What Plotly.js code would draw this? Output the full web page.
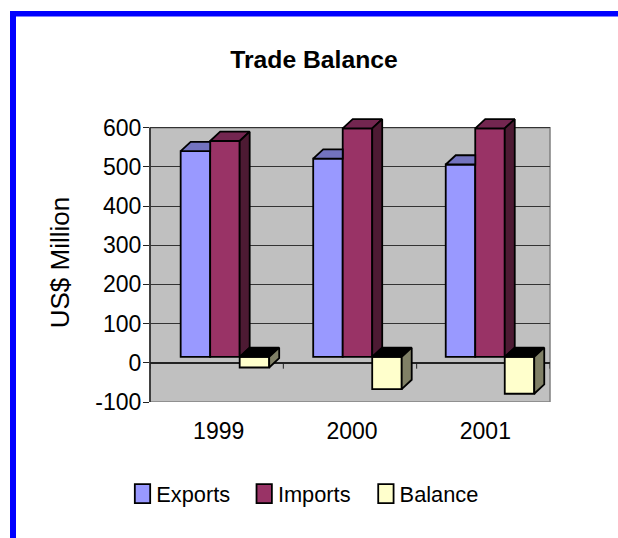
<!DOCTYPE html>
<html><head><meta charset="utf-8">
<script src="https://cdn.plot.ly/plotly-3.0.1.min.js"></script>
<style>html,body{margin:0;padding:0;background:#fff}
#c .legend .legendpoints path{transform:translate(26.3px,0) scale(1.28,1.58);vector-effect:non-scaling-stroke}
#c .g-ytitle{transform:translate(0,5.5px)}
</style>
</head><body><div id="c" style="width:618px;height:538px"></div>
<script>
const years = ['1999','2000','2001'];
const exportsV = [525,506,491];
const importsV = [551,583,583];
const balanceV = [-27,-82,-94];
const yTicks = [-100,0,100,200,300,400,500,600];
const yLabels = ['-100','0','100','200','300','400','500','600'];

const W=618,H=538,L=150,R=68,T=112,B=136;
const pos = years.map((_,i)=>i);
const barW = 0.2213;
const groupStart = pos.map(i=>-0.27-0.006*i);
const floorV = 15;           // front floor of the 3-D box, in axis units
const dx = 0.075, dy = 23.7; // depth of the 3-D projection, in axis units
const yMin = -100, yWallTop = 600, yRangeTop = 640; // headroom above the wall for the 3-D tops
const px = v => (v-L)/(W-L-R), py = v => 1-(v-T)/(H-T-B);

function bar(name,vals,color,slot){
  return {type:'bar',name,x:pos,y:vals,base:floorV,width:barW,offset:groupStart.map(s=>s+slot*barW),
    marker:{color,line:{color:'#000',width:1.8}},hoverinfo:'skip'};
}
function poly(xs,ys,color){
  return {type:'scatter',mode:'lines',x:xs,y:ys,fill:'toself',fillcolor:color,
    line:{color:'#000',width:1.8},showlegend:false,hoverinfo:'skip'};
}
const traces=[];
// category tick marks on the zero line
const tx=[],ty=[];
[-0.5,0.5,1.5,2.5].forEach(v=>{tx.push(v,v,null);ty.push(0,-15,null);});
traces.push({type:'scatter',mode:'lines',x:tx,y:ty,line:{color:'#222',width:1},showlegend:false,hoverinfo:'skip'});
traces.push(bar('Exports',exportsV,'#9999FF',0));
traces.push(bar('Imports',importsV,'#993366',1));
traces.push(bar('Balance',balanceV,'#FFFFCC',2));
pos.forEach(i=>{
  const x0=i+groupStart[i], x1=x0+barW, x2=x1+barW, x3=x2+barW;
  const te=floorV+exportsV[i], ti=floorV+importsV[i], bb=floorV+balanceV[i];
  traces.push(poly([x0,x1,x1,x0+dx,x0],[te,te,te+dy,te+dy,te],'#7373BF'));
  traces.push(poly([x1,x2,x2+dx,x1+dx,x1],[ti,ti,ti+dy,ti+dy,ti],'#732650'));
  traces.push(poly([x2,x2+dx,x2+dx,x2,x2],[ti,ti+dy,floorV+dy,floorV,ti],'#4D1A33'));
  traces.push(poly([x2,x3,x3+dx,x2+dx,x2],[floorV,floorV,floorV+dy,floorV+dy,floorV],'#000000'));
  traces.push(poly([x3,x3+dx,x3+dx,x3,x3],[floorV,floorV+dy,bb+dy,bb,floorV],'#808066'));
});
const font='"Liberation Sans", Arial, sans-serif';
const layout={
  width:W,height:H,margin:{l:L,r:R,t:T,b:B,pad:0},
  paper_bgcolor:'#fff',plot_bgcolor:'rgba(0,0,0,0)',font:{family:font,color:'#000'},
  barmode:'overlay',
  title:{text:'<b>Trade Balance</b>',font:{size:24.7,family:font,color:'#000'},xref:'paper',x:0.41,xanchor:'center',yref:'container',y:1-59.5/H,yanchor:'middle'},
  xaxis:{range:[-0.5,2.5],tickmode:'array',tickvals:pos,ticktext:years,ticks:'',ticklabelstandoff:13,ticklabelshift:2,tickfont:{size:23},showgrid:false,zeroline:false,showline:false,fixedrange:true},
  yaxis:{range:[yMin,yRangeTop],tickmode:'array',tickvals:yTicks,ticktext:yLabels,ticks:'outside',ticklen:6,tickcolor:'#222',ticklabelstandoff:-3,tickfont:{size:23},showline:false,
    showgrid:true,gridcolor:'#333',gridwidth:1,zeroline:true,zerolinecolor:'#222',zerolinewidth:1.5,
    title:{text:'US$ Million',font:{size:26},standoff:18},fixedrange:true},
  legend:{orientation:'h',x:px(116.2),xanchor:'left',y:py(473),yanchor:'top',font:{size:21.8},entrywidth:76.7,entrywidthmode:'pixels',bgcolor:'rgba(0,0,0,0)',traceorder:'normal'},
  shapes:[
    {type:'rect',xref:'paper',yref:'y',x0:0,x1:1,y0:yMin,y1:yWallTop,fillcolor:'#C0C0C0',line:{width:0},layer:'below'},
    {type:'rect',xref:'paper',yref:'y',x0:0,x1:1,y0:yMin,y1:yWallTop,line:{color:'#808080',width:1.5},layer:'between'},
    {type:'line',xref:'paper',yref:'y',x0:0,x1:0,y0:yMin,y1:yWallTop,line:{color:'#222',width:1.5},layer:'between'},
    {type:'rect',xref:'paper',yref:'paper',x0:px(10),x1:px(16),y0:py(11),y1:py(538),fillcolor:'#0000FF',line:{width:0},layer:'below'},
    {type:'rect',xref:'paper',yref:'paper',x0:px(10),x1:px(618),y0:py(11),y1:py(16.5),fillcolor:'#0000FF',line:{width:0},layer:'below'}
  ]
};
Plotly.newPlot('c',traces,layout,{displayModeBar:false,staticPlot:true});
</script></body></html>
